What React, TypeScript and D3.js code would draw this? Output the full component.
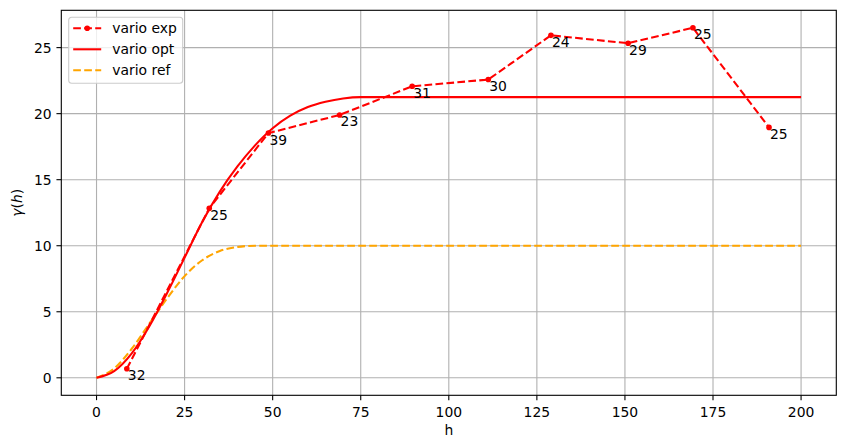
// Variogram chart: experimental points vs fitted and reference models
import { useEffect, useRef } from 'react'
import * as d3 from 'd3'

// experimental variogram (lag, gamma, pair count)
const expLags = [8.6, 32.0, 48.8, 69.0, 89.6, 111.2, 129.0, 150.9, 169.3, 190.9]
const expGamma = [0.68, 12.83, 18.53, 19.9, 22.07, 22.58, 25.93, 25.33, 26.5, 18.96]
const expCounts = [32, 25, 39, 23, 31, 30, 24, 29, 25, 25]

// model curves
const modelLags = [0, 5, 10, 15, 20, 25, 30, 35, 40, 45, 50, 55, 60, 65, 70, 75, 80, 100, 150, 200]
const optGamma = [0, 0.5, 1.85, 3.9, 6.4, 9.1, 11.8, 14.1, 16.0, 17.6, 18.9, 19.85, 20.5, 20.9, 21.15, 21.25, 21.25, 21.25, 21.25, 21.25]
const refGamma = [0, 0.7, 2.2, 4.1, 6.0, 7.7, 8.9, 9.6, 9.9, 10.0, 10.0, 10.0, 10.0, 10.0, 10.0, 10.0, 10.0, 10.0, 10.0, 10.0]

const xTicks = [0, 25, 50, 75, 100, 125, 150, 175, 200]
const yTicks = [0, 5, 10, 15, 20, 25]

const DASH = '7.7,3.3'
const legendItems = [
  { label: 'vario exp', color: '#ff0000', dash: DASH, marker: true },
  { label: 'vario opt', color: '#ff0000', dash: null, marker: false },
  { label: 'vario ref', color: '#ffa500', dash: DASH, marker: false },
]

const WIDTH = 845
const HEIGHT = 448
const FONT = '"DejaVu Sans", sans-serif'
const FS = 13.9

export default function App() {
  const svgRef = useRef<SVGSVGElement>(null)

  useEffect(() => {
    if (!svgRef.current) return
    const svg = d3.select(svgRef.current)
    svg.selectAll('*').remove()

    const margin = { top: 10.3, right: WIDTH - 836.3, bottom: HEIGHT - 395.3, left: 61.3 }
    const innerWidth = WIDTH - margin.left - margin.right
    const innerHeight = HEIGHT - margin.top - margin.bottom

    const yMax = d3.max(expGamma) as number
    const pad = yMax * 0.05
    const x = d3.scaleLinear().domain([-10, 210]).range([0, innerWidth])
    const y = d3.scaleLinear().domain([-pad, yMax + pad]).range([innerHeight, 0])

    const g = svg.append('g').attr('transform', `translate(${margin.left},${margin.top})`)

    // grid
    g.selectAll('.xgrid').data(xTicks).enter().append('line')
      .attr('x1', d => x(d)).attr('x2', d => x(d))
      .attr('y1', 0).attr('y2', innerHeight)
      .attr('stroke', '#b0b0b0').attr('stroke-width', 1.1)
    g.selectAll('.ygrid').data(yTicks).enter().append('line')
      .attr('x1', 0).attr('x2', innerWidth)
      .attr('y1', d => y(d)).attr('y2', d => y(d))
      .attr('stroke', '#b0b0b0').attr('stroke-width', 1.1)

    const clip = svg.append('defs').append('clipPath').attr('id', 'plot-clip')
    clip.append('rect').attr('width', innerWidth).attr('height', innerHeight)
    const plot = g.append('g').attr('clip-path', 'url(#plot-clip)')

    const modelLine = (vals: number[]) => d3.line<number>()
      .x((_, i) => x(modelLags[i]))
      .y(d => y(d))
      .curve(d3.curveMonotoneX)(vals)

    // reference model
    plot.append('path')
      .attr('d', modelLine(refGamma))
      .attr('fill', 'none').attr('stroke', '#ffa500').attr('stroke-width', 2.08)
      .attr('stroke-dasharray', DASH)

    // fitted model
    plot.append('path')
      .attr('d', modelLine(optGamma))
      .attr('fill', 'none').attr('stroke', '#ff0000').attr('stroke-width', 2.08)

    // experimental
    const expLine = d3.line<number>().x((_, i) => x(expLags[i])).y(d => y(d))
    plot.append('path')
      .attr('d', expLine(expGamma))
      .attr('fill', 'none').attr('stroke', '#ff0000').attr('stroke-width', 2.08)
      .attr('stroke-dasharray', DASH)
    plot.selectAll('.dot').data(expGamma).enter().append('circle')
      .attr('cx', (_, i) => x(expLags[i])).attr('cy', d => y(d))
      .attr('r', 2.8).attr('fill', '#ff0000')

    // pair count labels
    g.selectAll('.count').data(expCounts).enter().append('text')
      .attr('x', (_, i) => x(expLags[i]) + 1)
      .attr('y', (_, i) => y(expGamma[i]) + 11.5)
      .attr('font-family', FONT).attr('font-size', FS)
      .attr('fill', '#000')
      .text(d => d)

    // spines
    g.append('rect')
      .attr('width', innerWidth).attr('height', innerHeight)
      .attr('fill', 'none').attr('stroke', '#000').attr('stroke-width', 1.1)

    // x ticks
    const xt = g.selectAll('.xtick').data(xTicks).enter().append('g')
      .attr('transform', d => `translate(${x(d)},${innerHeight})`)
    xt.append('line').attr('y2', 4.86).attr('stroke', '#000').attr('stroke-width', 1.1)
    xt.append('text')
      .attr('y', 21.5).attr('text-anchor', 'middle')
      .attr('font-family', FONT).attr('font-size', FS)
      .text(d => d)

    // y ticks
    const yt = g.selectAll('.ytick').data(yTicks).enter().append('g')
      .attr('transform', d => `translate(0,${y(d)})`)
    yt.append('line').attr('x2', -4.86).attr('stroke', '#000').attr('stroke-width', 1.1)
    yt.append('text')
      .attr('x', -9.7).attr('dy', '0.36em').attr('text-anchor', 'end')
      .attr('font-family', FONT).attr('font-size', FS)
      .text(d => d)

    // axis labels
    svg.append('text')
      .attr('x', margin.left + innerWidth / 2).attr('y', 435)
      .attr('text-anchor', 'middle')
      .attr('font-family', FONT).attr('font-size', FS)
      .text('h')

    const yl = svg.append('text')
      .attr('transform', `translate(22,${margin.top + innerHeight / 2}) rotate(-90)`)
      .attr('text-anchor', 'middle')
      .attr('font-family', FONT).attr('font-size', FS)
    yl.append('tspan').attr('font-style', 'italic').text('γ')
    yl.append('tspan').text('(')
    yl.append('tspan').attr('font-style', 'italic').text('h')
    yl.append('tspan').text(')')

    // legend
    const legend = g.append('g').attr('transform', 'translate(7.4,7)')
    legend.append('rect')
      .attr('width', 114).attr('height', 66).attr('rx', 3)
      .attr('fill', '#fff').attr('fill-opacity', 0.8)
      .attr('stroke', '#cccccc').attr('stroke-width', 1.1)
    legendItems.forEach((item, i) => {
      const ly = 11 + i * 21
      legend.append('line')
        .attr('x1', 4.5).attr('x2', 32.5).attr('y1', ly).attr('y2', ly)
        .attr('stroke', item.color).attr('stroke-width', 2.08)
        .attr('stroke-dasharray', item.dash)
      if (item.marker) {
        legend.append('circle').attr('cx', 18.5).attr('cy', ly).attr('r', 2.8).attr('fill', item.color)
      }
      legend.append('text')
        .attr('x', 43.6).attr('y', ly).attr('dy', '0.36em')
        .attr('font-family', FONT).attr('font-size', FS)
        .text(item.label)
    })
  }, [])

  return (
    <div style={{ position: 'absolute', left: 0, top: 0 }}>
      <svg ref={svgRef} width={WIDTH} height={HEIGHT} style={{ display: 'block', background: '#fff' }} />
    </div>
  )
}
